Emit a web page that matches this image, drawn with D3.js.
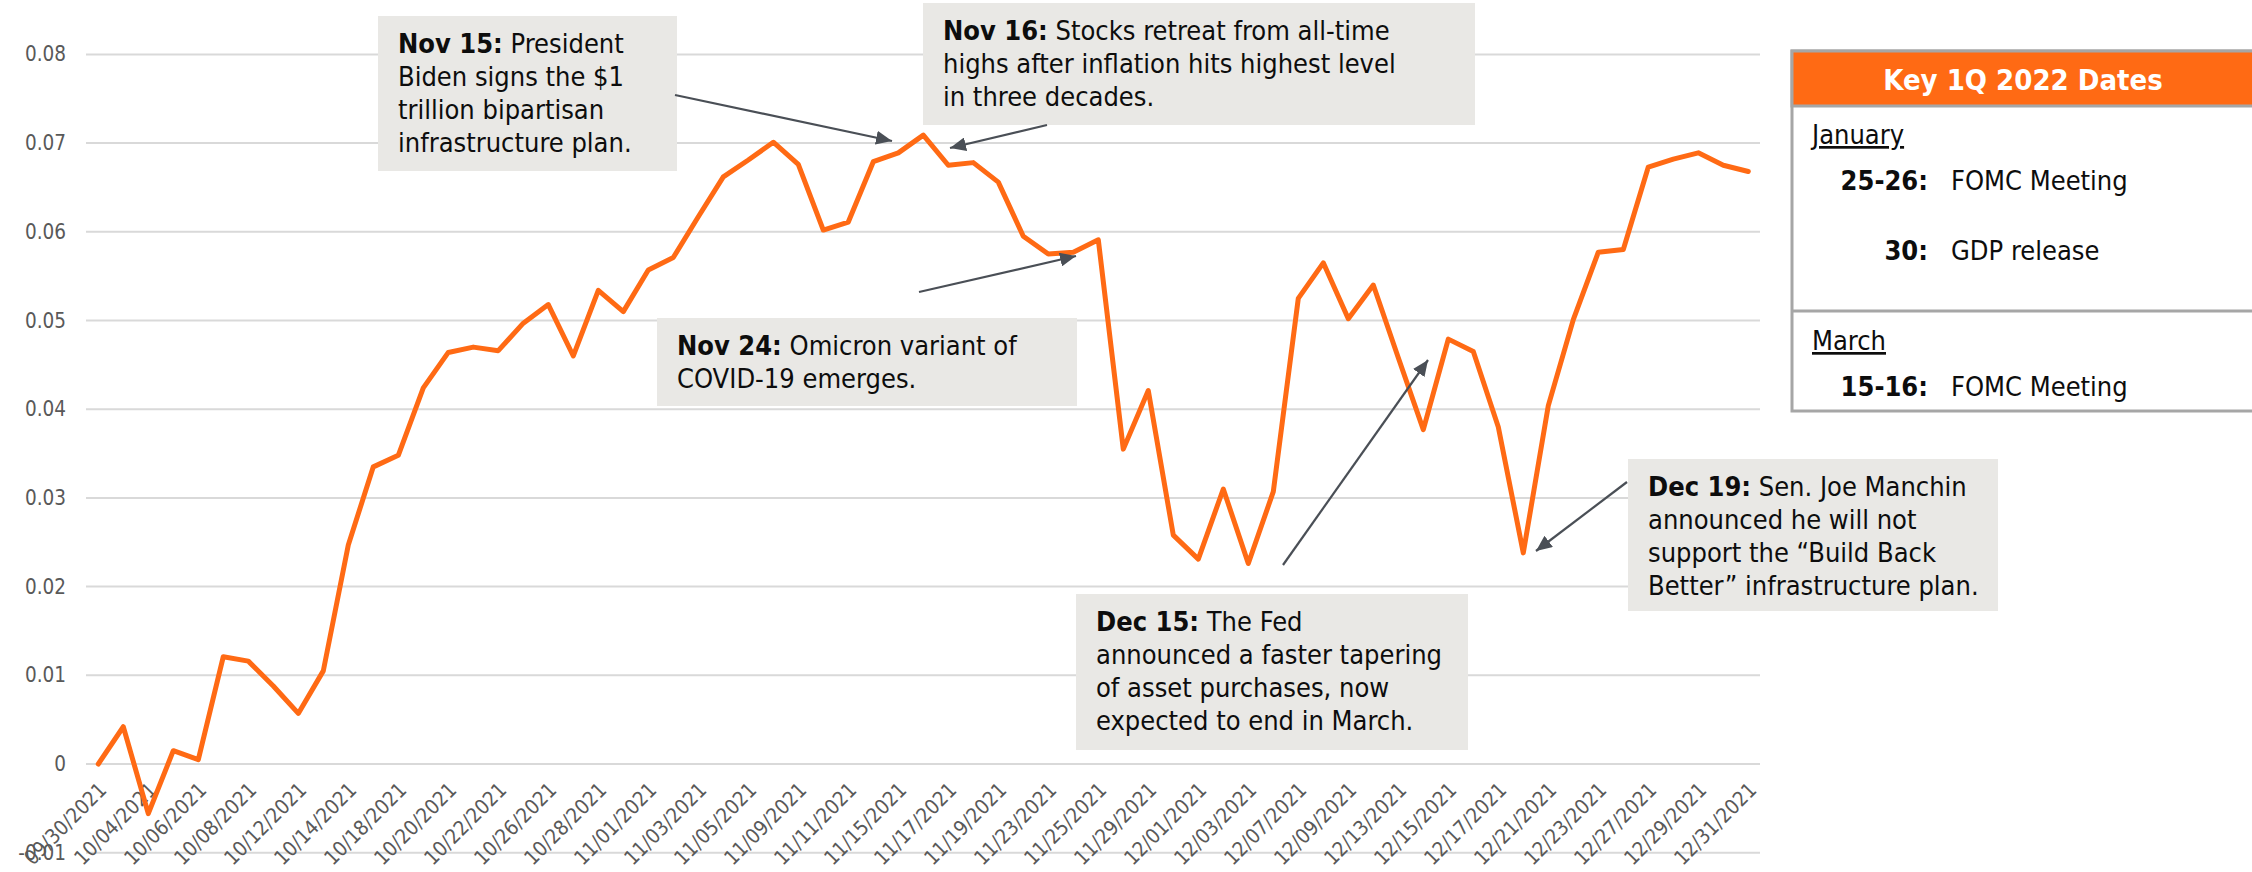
<!DOCTYPE html>
<html>
<head>
<meta charset="utf-8">
<script src="https://cdn.jsdelivr.net/npm/d3@7"></script>
<style>
  html, body { margin: 0; padding: 0; background: #ffffff; }
  svg { display: block; }
  text { font-family: 'DejaVu Sans Condensed', 'DejaVu Sans', sans-serif; font-stretch: condensed; }
</style>
</head>
<body>
<svg id="chart" width="2252" height="872"></svg>
<script>
// ---------------- data ----------------
const dates = [
  "09/30/2021","10/01/2021","10/04/2021","10/05/2021","10/06/2021","10/07/2021","10/08/2021",
  "10/11/2021","10/12/2021","10/13/2021","10/14/2021","10/15/2021","10/18/2021","10/19/2021",
  "10/20/2021","10/21/2021","10/22/2021","10/25/2021","10/26/2021","10/27/2021","10/28/2021",
  "10/29/2021","11/01/2021","11/02/2021","11/03/2021","11/04/2021","11/05/2021","11/08/2021",
  "11/09/2021","11/10/2021","11/11/2021","11/12/2021","11/15/2021","11/16/2021","11/17/2021",
  "11/18/2021","11/19/2021","11/22/2021","11/23/2021","11/24/2021","11/25/2021","11/26/2021",
  "11/29/2021","11/30/2021","12/01/2021","12/02/2021","12/03/2021","12/06/2021","12/07/2021",
  "12/08/2021","12/09/2021","12/10/2021","12/13/2021","12/14/2021","12/15/2021","12/16/2021",
  "12/17/2021","12/20/2021","12/21/2021","12/22/2021","12/23/2021","12/24/2021","12/27/2021",
  "12/28/2021","12/29/2021","12/30/2021","12/31/2021"
];
const values = [
  0.0000, 0.0042, -0.0056, 0.0015, 0.0005, 0.0121, 0.0116,
  0.0088, 0.0057, 0.0105, 0.0247, 0.0335, 0.0348, 0.0424,
  0.0464, 0.0470, 0.0466, 0.0497, 0.0518, 0.0460, 0.0534,
  0.0510, 0.0557, 0.0571, 0.0617, 0.0662, 0.0681, 0.0701,
  0.0676, 0.0602, 0.0611, 0.0679, 0.0689, 0.0709, 0.0675,
  0.0678, 0.0656, 0.0595, 0.0575, 0.0577, 0.0591, 0.0355,
  0.0421, 0.0258, 0.0231, 0.0310, 0.0226, 0.0307, 0.0525,
  0.0565, 0.0502, 0.0540, 0.0458, 0.0377, 0.0479, 0.0465,
  0.0380, 0.0238, 0.0404, 0.0501, 0.0577, 0.0580, 0.0673,
  0.0682, 0.0689, 0.0675, 0.0668
];
// x tick labels: every other category
const xTickLabels = dates.filter((d, i) => i % 2 === 0);
const yTicks = [-0.01, 0, 0.01, 0.02, 0.03, 0.04, 0.05, 0.06, 0.07, 0.08];
const yTickLabels = ["-0.01", "0", "0.01", "0.02", "0.03", "0.04", "0.05", "0.06", "0.07", "0.08"];

// annotations text
const notes = [
  { bold: "Nov 15:", lines: [" President", "Biden signs the $1", "trillion bipartisan", "infrastructure plan."] },
  { bold: "Nov 16:", lines: [" Stocks retreat from all-time", "highs after inflation hits highest level", "in three decades."] },
  { bold: "Nov 24:", lines: [" Omicron variant of", "COVID-19 emerges."] },
  { bold: "Dec 15:", lines: [" The Fed", "announced a faster tapering", "of asset purchases, now", "expected to end in March."] },
  { bold: "Dec 19:", lines: [" Sen. Joe Manchin", "announced he will not", "support the \u201CBuild Back", "Better\u201D infrastructure plan."] }
];
const tableTitle = "Key 1Q 2022 Dates";
const tableMonths = ["January", "March"];
const tableRows = [
  { day: "25-26:", event: "FOMC Meeting" },
  { day: "30:", event: "GDP release" },
  { day: "15-16:", event: "FOMC Meeting" }
];

// ---------------- layout ----------------
const ORANGE = "#ff6a14";
const svg = d3.select("#chart");
svg.append("rect").attr("width", 2252).attr("height", 872).attr("fill", "#ffffff");

const plotLeft = 86, plotRight = 1760;
const x = d3.scalePoint().domain(dates).range([98.3, 1748.3]);
const y = d3.scaleLinear().domain([-0.01, 0.08]).range([852.7, 54.4]);

// gridlines
svg.append("g").selectAll("line").data(yTicks).join("line")
  .attr("x1", plotLeft).attr("x2", plotRight)
  .attr("y1", d => y(d)).attr("y2", d => y(d))
  .attr("stroke", "#d9d9d9").attr("stroke-width", 2);

// y axis labels
const yAxis = d3.axisLeft(y).tickValues(yTicks).tickSize(0).tickPadding(0)
  .tickFormat((d, i) => yTickLabels[i]);
const gy = svg.append("g").attr("transform", "translate(66,0)").call(yAxis);
gy.select(".domain").remove();
gy.selectAll("text").attr("font-size", 20.5).attr("fill", "#595959")
  .style("font-family", "'DejaVu Sans Condensed','DejaVu Sans',sans-serif");

// x axis labels (rotated)
const xAxis = d3.axisBottom(x).tickValues(xTickLabels).tickSize(0).tickPadding(0);
const gx = svg.append("g").attr("transform", `translate(0,${y(0)})`).call(xAxis);
gx.select(".domain").remove();
gx.selectAll(".tick text")
  .attr("font-size", 20.5).attr("fill", "#595959")
  .style("font-family", "'DejaVu Sans Condensed','DejaVu Sans',sans-serif")
  .attr("text-anchor", "end")
  .attr("x", 0).attr("y", 0).attr("dy", "0.35em")
  .attr("transform", "translate(4,22) rotate(-45)");

// line
const line = d3.line().x((d, i) => x(dates[i])).y(d => y(d));
svg.append("path").datum(values)
  .attr("d", line).attr("fill", "none")
  .attr("stroke", ORANGE).attr("stroke-width", 5)
  .attr("stroke-linejoin", "round").attr("stroke-linecap", "round");

// arrow marker
const defs = svg.append("defs");
defs.append("marker").attr("id", "ah")
  .attr("markerUnits", "userSpaceOnUse")
  .attr("viewBox", "0 0 16 14").attr("refX", 16).attr("refY", 7)
  .attr("markerWidth", 16).attr("markerHeight", 14).attr("orient", "auto")
  .append("path").attr("d", "M0,0 L16,7 L0,14 Z").attr("fill", "#4a4f56");

// annotation boxes
const boxes = [
  { x: 378, y: 16, w: 299, h: 155 },
  { x: 923, y: 3, w: 552, h: 122 },
  { x: 657, y: 318, w: 420, h: 88 },
  { x: 1076, y: 594, w: 392, h: 156 },
  { x: 1628, y: 459, w: 370, h: 152 }
];
const arrows = [
  { x1: 675, y1: 95, x2: 892, y2: 141 },
  { x1: 1047, y1: 125, x2: 950, y2: 148 },
  { x1: 919, y1: 292, x2: 1076, y2: 256 },
  { x1: 1283, y1: 565, x2: 1428, y2: 360 },
  { x1: 1627, y1: 482, x2: 1536, y2: 551 }
];
const NOTE_FS = 27, NOTE_LH = 33;
boxes.forEach((b, k) => {
  svg.append("rect").attr("x", b.x).attr("y", b.y).attr("width", b.w).attr("height", b.h)
    .attr("fill", "#e9e8e5");
  const t = svg.append("text").attr("font-size", NOTE_FS).attr("fill", "#0d0d0d");
  const n = notes[k];
  n.lines.forEach((ln, j) => {
    const ty = b.y + 37 + j * NOTE_LH;
    if (j === 0) {
      const tt = t.append("tspan").attr("x", b.x + 20).attr("y", ty);
      tt.append("tspan").attr("font-weight", "bold").text(n.bold);
      tt.append("tspan").text(ln);
    } else {
      t.append("tspan").attr("x", b.x + 20).attr("y", ty).text(ln);
    }
  });
});
arrows.forEach(a => {
  svg.append("line").attr("x1", a.x1).attr("y1", a.y1).attr("x2", a.x2).attr("y2", a.y2)
    .attr("stroke", "#4a4f56").attr("stroke-width", 2.2).attr("marker-end", "url(#ah)");
});

// key dates table
const T = { x: 1792, y: 51, w: 470, h: 360, headerH: 55, divY: 311 };
const tg = svg.append("g");
tg.append("rect").attr("x", T.x).attr("y", T.y).attr("width", T.w).attr("height", T.h)
  .attr("fill", "#ffffff").attr("stroke", "#a6a6a6").attr("stroke-width", 3);
tg.append("rect").attr("x", T.x).attr("y", T.y).attr("width", T.w).attr("height", T.headerH)
  .attr("fill", ORANGE).attr("stroke", "#a6a6a6").attr("stroke-width", 3);
tg.append("line").attr("x1", T.x).attr("x2", T.x + T.w).attr("y1", T.divY).attr("y2", T.divY)
  .attr("stroke", "#a6a6a6").attr("stroke-width", 3);
tg.append("text").attr("x", 2023).attr("y", 90).attr("text-anchor", "middle")
  .attr("font-size", 29).attr("font-weight", "bold").attr("fill", "#ffffff").text(tableTitle);
const monthY = [144, 350];
tableMonths.forEach((m, i) => {
  tg.append("text").attr("x", 1812).attr("y", monthY[i]).attr("font-size", 27)
    .attr("fill", "#0d0d0d").style("text-decoration", "underline").text(m);
});
const rowY = [190, 260, 396];
tableRows.forEach((r, i) => {
  tg.append("text").attr("x", 1928).attr("y", rowY[i]).attr("text-anchor", "end")
    .attr("font-size", 27).attr("font-weight", "bold").attr("fill", "#0d0d0d").text(r.day);
  tg.append("text").attr("x", 1951).attr("y", rowY[i]).attr("font-size", 27)
    .attr("fill", "#0d0d0d").text(r.event);
});
</script>
</body>
</html>
